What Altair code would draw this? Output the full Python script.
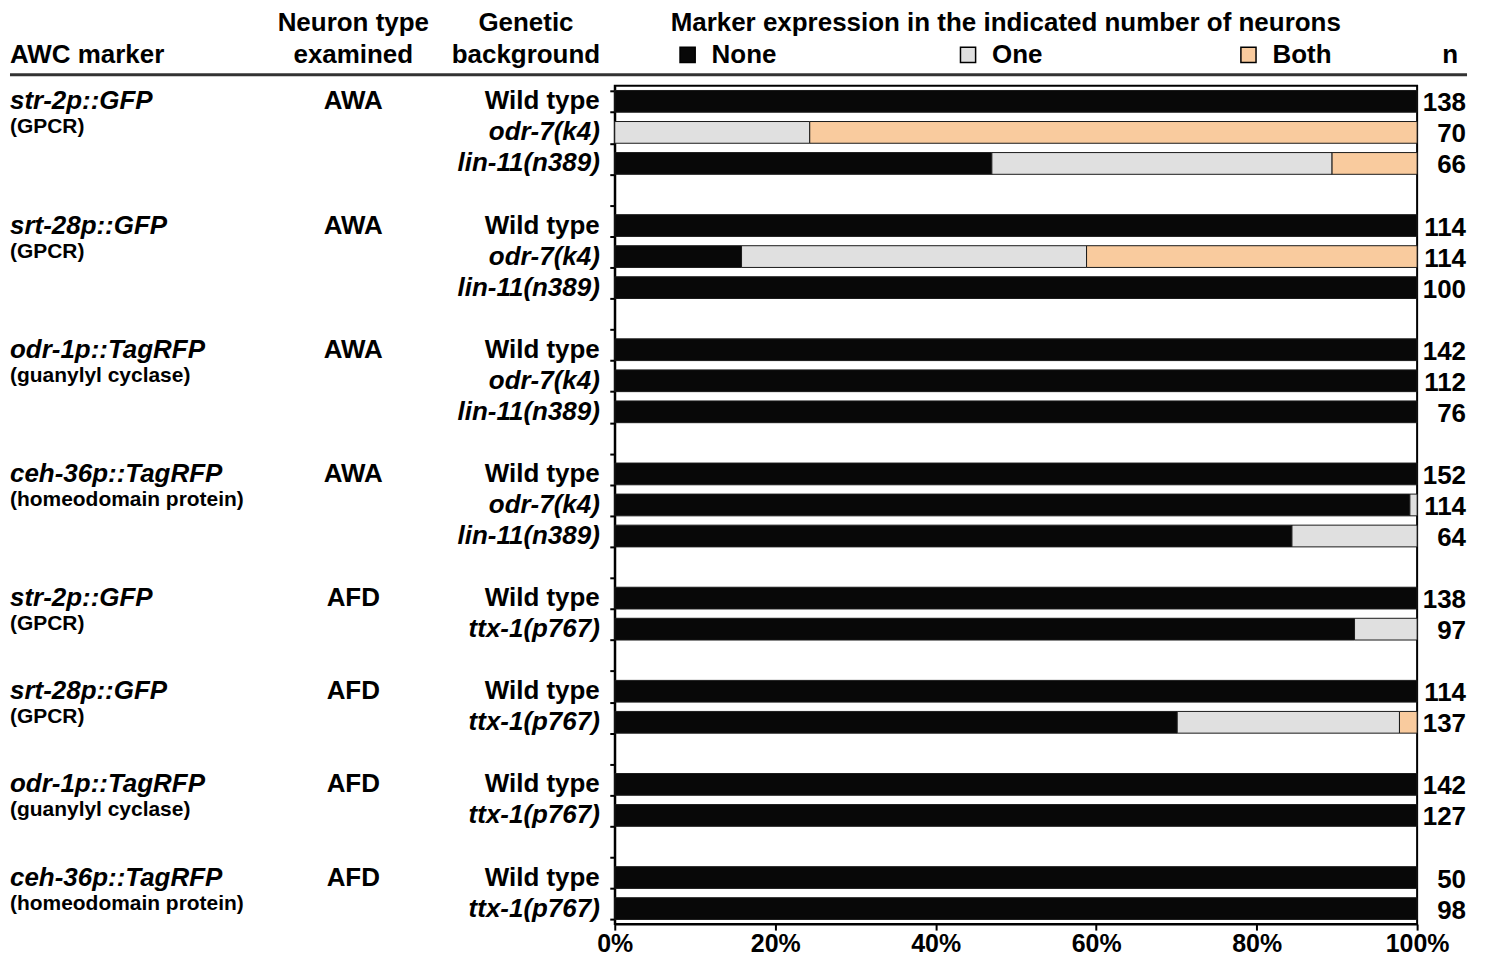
import altair as alt
import pandas as pd

# ---------------- data ----------------
categories = ["None", "One", "Both"]
colors = ["#080808", "#e0e0e0", "#f9cb9e"]

markers = ["str-2p::GFP", "srt-28p::GFP", "odr-1p::TagRFP", "ceh-36p::TagRFP"] * 2
marker_notes = ["(GPCR)", "(GPCR)", "(guanylyl cyclase)", "(homeodomain protein)"] * 2
neuron_types = ["AWA"] * 4 + ["AFD"] * 4
backgrounds = [["Wild type", "odr-7(k4)", "lin-11(n389)"]] * 4 + [["Wild type", "ttx-1(p767)"]] * 4
n_values = [[138, 70, 66], [114, 114, 100], [142, 112, 76], [152, 114, 64],
            [138, 97], [114, 137], [142, 127], [50, 98]]
pct_none = [[100, 0, 47.0], [100, 15.8, 100], [100, 100, 100], [100, 99.1, 84.4],
            [100, 92.2], [100, 70.1], [100, 100], [100, 100]]
pct_one = [[0, 24.3, 42.4], [0, 43.0, 0], [0, 0, 0], [0, 0.9, 15.6],
           [0, 7.8], [0, 27.7], [0, 0], [0, 0]]
pct_both = [[0, 75.7, 10.6], [0, 41.2, 0], [0, 0, 0], [0, 0, 0],
            [0, 0], [0, 2.2], [0, 0], [0, 0]]
x_ticks = [0, 20, 40, 60, 80, 100]

headers_col1 = "AWC marker"
headers_col2 = ["Neuron type", "examined"]
headers_col3 = ["Genetic", "background"]
header_main = "Marker expression in the indicated number of neurons"
header_n = "n"

# ---------------- tables ----------------
slots = []
row_recs = []
bar_recs = []
group_recs = []
for gi in range(len(markers)):
    for ri, bg in enumerate(backgrounds[gi]):
        sid = f"g{gi}r{ri}"
        slots.append(sid)
        row_recs.append({"slot": sid, "bg": bg, "italic": bg != "Wild type",
                         "n": str(n_values[gi][ri])})
        for ci, (cat, vals) in enumerate(zip(categories, [pct_none, pct_one, pct_both])):
            v = vals[gi][ri]
            if v > 0:
                bar_recs.append({"slot": sid, "category": cat, "order": ci, "pct": v})
    group_recs.append({"slot": f"g{gi}r0", "marker": markers[gi], "neuron": neuron_types[gi]})
    group_recs.append({"slot": f"g{gi}r1", "marker": marker_notes[gi], "neuron": ""})
    if gi < len(markers) - 1:
        slots.append(f"gap{gi}")

rows = pd.DataFrame(row_recs)
bars = pd.DataFrame(bar_recs)
groups = pd.DataFrame(group_recs)

FONT = "Liberation Sans"
FS = 26

y_enc = alt.Y(
    "slot:N",
    scale=alt.Scale(domain=slots, paddingInner=0.3, paddingOuter=0.15),
    axis=alt.Axis(title=None, labels=False, ticks=True, tickBand="extent", tickSize=5,
                  tickWidth=2, tickColor="black", domainColor="black", domainWidth=2,
                  grid=False),
)

bar_layer = alt.Chart(bars).mark_bar(stroke="#1a1a1a", strokeWidth=1).encode(
    x=alt.X("pct:Q", stack="zero",
            scale=alt.Scale(domain=[0, 100], nice=False),
            axis=alt.Axis(values=x_ticks, labelExpr="datum.value + '%'", title=None,
                          grid=False, tickSize=6, tickWidth=2, tickColor="black",
                          domainColor="black", domainWidth=2, labelFontSize=25,
                          labelFontWeight="bold", labelFont=FONT, labelColor="black",
                          labelPadding=1, labelFlush=False)),
    y=y_enc,
    color=alt.Color("category:N",
                    scale=alt.Scale(domain=categories, range=colors),
                    legend=alt.Legend(title=None, orient="none", legendX=60, legendY=-44,
                                      direction="horizontal", columns=3, gridAlign="all",
                                      columnPadding=179, symbolType="square",
                                      symbolSize=230, symbolStrokeColor="black",
                                      symbolStrokeWidth=1.5, labelFontSize=FS,
                                      labelFont=FONT, labelFontWeight="bold",
                                      labelColor="black", labelOffset=11, padding=0)),
    order=alt.Order("order:Q"),
)

txt = dict(font=FONT, fontSize=FS, fontWeight="bold", color="black", baseline="middle")

bg_plain = alt.Chart(rows).transform_filter("!datum.italic").mark_text(
    align="right", **txt).encode(x=alt.value(-15), y=y_enc, text="bg:N")
bg_ital = alt.Chart(rows).transform_filter("datum.italic").mark_text(
    align="right", fontStyle="italic", **txt).encode(x=alt.value(-15), y=y_enc, text="bg:N")
n_layer = alt.Chart(rows).mark_text(align="right", dy=2, **txt).encode(
    x=alt.value(853), y=y_enc, text="n:N")

marker_layer = alt.Chart(groups).transform_filter("datum.neuron != ''").mark_text(
    align="left", fontStyle="italic", **txt).encode(x=alt.value(-606), y=y_enc, text="marker:N")
note_layer = alt.Chart(groups).transform_filter("datum.neuron == ''").mark_text(
    align="left", dy=-5, font=FONT, fontSize=21, fontWeight="bold", color="black",
    baseline="middle").encode(x=alt.value(-606), y=y_enc, text="marker:N")
neuron_layer = alt.Chart(groups).transform_filter("datum.neuron != ''").mark_text(
    align="center", **txt).encode(x=alt.value(-262), y=y_enc, text="neuron:N")


def head(text, x, y, align):
    return alt.Chart(pd.DataFrame({"t": [text]})).mark_text(align=align, **txt).encode(
        x=alt.value(x), y=alt.value(y), text="t:N")


header_layers = [
    head(headers_col1, -606, -31, "left"),
    head(headers_col2[0], -262, -63, "center"),
    head(headers_col2[1], -262, -31, "center"),
    head(headers_col3[0], -89, -63, "center"),
    head(headers_col3[1], -89, -31, "center"),
    head(header_main, 56, -63, "left"),
    head(header_n, 837, -31, "center"),
]

rule = alt.Chart(pd.DataFrame({"a": [0]})).mark_rule(color="#333333", strokeWidth=3).encode(
    x=alt.value(-606), x2=alt.value(854), y=alt.value(-11))

chart = alt.layer(
    bar_layer, bg_plain, bg_ital, n_layer, marker_layer, note_layer, neuron_layer,
    rule, *header_layers
).properties(
    width=804, height=840,
    autosize=alt.AutoSizeParams(type="none"),
    padding={"left": 608, "top": 77, "right": 60, "bottom": 40},
).configure_view(stroke="black", strokeWidth=2)

chart.save("out.html", embed_options={"renderer": "svg", "actions": False})
